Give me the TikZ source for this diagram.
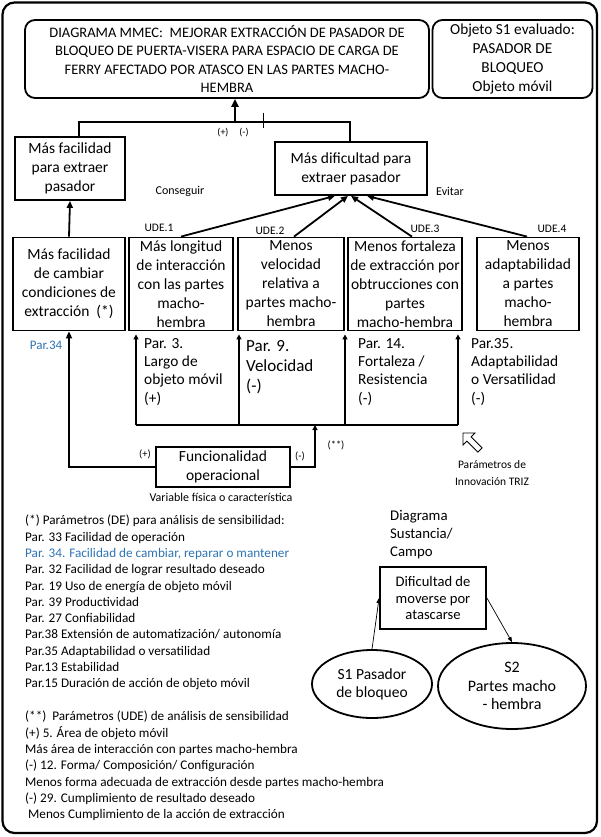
\documentclass[tikz,border=0pt]{standalone}
\usepackage{fontspec}
\setmainfont{Carlito}
\usetikzlibrary{arrows.meta,shapes.geometric}
\definecolor{parblue}{RGB}{46,116,181}
\newcommand{\fsz}[2]{\fontsize{#1}{#2}\selectfont}
\tikzset{
  bx/.style={draw, line width=1.8pt, align=center, inner sep=1pt},
  arr/.style={-{Triangle[length=7pt,width=6pt]}, line width=1.8pt},
  arrsm/.style={-{Triangle[length=5pt,width=5pt]}, line width=1.5pt},
  arrthin/.style={-{Triangle[length=5pt,width=4pt]}, line width=0.7pt},
  lbl/.style={inner sep=0pt, align=center},
  txt/.style={inner sep=0pt, align=left, anchor=north west},
}
\begin{document}
\begin{tikzpicture}[x=1pt,y=-1pt]
\useasboundingbox (0,0) rectangle (600,837);
% outer frame
\draw[line width=2.2pt, rounded corners=12pt] (2.5,2.5) rectangle (597,833);

% top boxes
\node[bx, rounded corners=10pt, minimum width=404pt, minimum height=78pt, font=\fsz{14.5}{18.3}] (title) at (227,59)
 {DIAGRAMA MMEC:\ \ MEJORAR EXTRACCIÓN DE PASADOR DE\\BLOQUEO DE PUERTA-VISERA PARA ESPACIO DE CARGA DE\\FERRY AFECTADO POR ATASCO EN LAS PARTES MACHO-\\HEMBRA};
\node[bx, rounded corners=10pt, minimum width=160pt, minimum height=78pt, font=\fsz{15.3}{18.8}] (obj) at (512.5,59)
 {Objeto S1 evaluado:\\PASADOR DE\\BLOQUEO\\Objeto móvil};

% second row
\node[bx, minimum width=110pt, minimum height=63pt, font=\fsz{15.5}{19}] (A) at (70,168.5) {Más facilidad\\para extraer\\pasador};
\node[bx, minimum width=152pt, minimum height=53pt, font=\fsz{15.5}{19}] (B) at (351,168.5) {Más dificultad para\\extraer pasador};

% third row
\node[bx, minimum width=112pt, minimum height=93pt, font=\fsz{15.5}{19}] (C0) at (69,284) {Más facilidad\\de cambiar\\condiciones de\\extracción\ \ (*)};
\node[bx, minimum width=104pt, minimum height=93pt, font=\fsz{15.5}{19}] (U1) at (181,284) {Más longitud\\de interacción\\con las partes\\macho-\\hembra};
\node[bx, minimum width=106pt, minimum height=93pt, font=\fsz{15.5}{19}] (U2) at (291,284) {Menos\\velocidad\\relativa a\\partes macho-\\hembra};
\node[bx, minimum width=114pt, minimum height=93pt, font=\fsz{15.5}{19}] (U3) at (405,284) {Menos fortaleza\\de extracción por\\obtrucciones con\\partes\\macho-hembra};
\node[bx, minimum width=102pt, minimum height=93pt, font=\fsz{15.5}{19}] (U4) at (528,284) {Menos\\adaptabilidad\\a partes\\macho-\\hembra};

% funcionalidad
\node[bx, minimum width=134pt, minimum height=40pt, font=\fsz{15.5}{19}] (F) at (223,467) {Funcionalidad\\operacional};

% top connectors
\coordinate (jt) at (235,122);
\coordinate (jl) at (79,122);
\coordinate (jr) at (350,122);
\draw[line width=2pt] (jl |- A.north) -- (jl) -- (jr) -- (jr |- B.north);
\draw[-{Triangle[length=8pt,width=7pt]}, line width=2.6pt] (jt) -- (jt |- title.south);
\coordinate (tk1) at (263,113);
\coordinate (tk2) at (263,128);
\draw[line width=0.6pt] (tk1) -- (tk2);
\node[lbl, font=\fsz{10}{12}] (pp) at (223,133) {(+)};
\node[lbl, font=\fsz{10}{12}] (pm) at (244,133) {(-)};

\node[lbl, font=\fsz{12}{14}] (cons) at (180,191) {Conseguir};
\node[lbl, font=\fsz{12}{14}] (evit) at (450,191) {Evitar};

% UDE arrows
\draw[arr] (U1.north) -- ([xshift=-16pt]B.south);
\draw[arr] ([xshift=3pt]U2.north) -- ([xshift=-3pt]B.south);
\draw[arr] ([xshift=7pt]U3.north) -- (B.south);
\draw[arr] ([xshift=-1pt]U4.north) -- ([xshift=16pt]B.south);
\draw[arr] (C0.north) -- (A.south);

\node[lbl, font=\fsz{11.5}{14}] (ude1) at (159,228) {UDE.1};
\node[lbl, font=\fsz{11.5}{14}] (ude2) at (270,231) {UDE.2};
\node[lbl, font=\fsz{11.5}{14}] (ude3) at (425,229) {UDE.3};
\node[lbl, font=\fsz{11.5}{14}] (ude4) at (552,229) {UDE.4};

% parameter bracket
\coordinate (p1) at (136,425);
\coordinate (p2) at (239,425);
\coordinate (p3) at (345,425);
\coordinate (p4) at (458,425);
\coordinate (p5) at (315,425);
\draw[line width=1.6pt] (p1) -- (p4);
\draw[arrsm] (p1) -- ([yshift=-3pt]p1 |- U1.south);
\draw[arrsm] (p2) -- ([yshift=-3pt]p2 |- U2.south);
\draw[arrsm] (p3) -- ([yshift=-3pt]p3 |- U3.south);
\draw[arrsm] (p4) -- ([yshift=-3pt]p4 |- U3.south);

\draw[arr] (F.west) -- (F.west -| C0.south) -- (C0.south);
\draw[arrsm] (F.east) -- (F.east -| p5) -- (p5);

\node[lbl, font=\fsz{10.5}{12}] (fp) at (145,454) {(+)};
\node[lbl, font=\fsz{10.5}{12}] (fm) at (300,456) {(-)};
\node[lbl, font=\fsz{10.5}{12}] (fss) at (336,445) {(**)};

\node[lbl, font=\fsz{13}{15}, text=parblue] (par34) at (46,345) {Par.34};
\node[txt, font=\fsz{15.4}{18.3}] (t3) at (144,338) {Par. 3.\\Largo de\\objeto móvil\\(+)};
\node[txt, font=\fsz{17}{20}] (t9) at (246,340) {Par. 9.\\Velocidad\\(-)};
\node[txt, font=\fsz{15.4}{18.3}] (t14) at (358,338) {Par. 14.\\Fortaleza /\\Resistencia\\(-)};
\node[txt, font=\fsz{15.4}{18.3}] (t35) at (471,338) {Par.35.\\Adaptabilidad\\o Versatilidad\\(-)};

% hollow arrow icon
\draw[line width=0.8pt] (463,433) -- (475,433) -- (471.1,436.9) -- (482.1,447.9) -- (477.9,452.1) -- (466.9,441.1) -- (463,445) -- cycle;
\node[lbl, font=\fsz{11.5}{17}] (triz) at (492,473.5) {Parámetros de\\Innovación TRIZ};

\node[lbl, font=\fsz{12}{14}] (var) at (221,497) {Variable física o característica};

% lists
\node[txt, font=\fsz{13.2}{16.3}] (list1) at (25,515) {(*) Parámetros (DE) para análisis de sensibilidad:\\
Par. 33 Facilidad de operación\\
\textcolor{parblue}{Par. 34. Facilidad\ de cambiar, reparar o mantener}\\
Par. 32 Facilidad de lograr resultado deseado\\
Par. 19 Uso de energía de objeto móvil\\
Par. 39 Productividad\\
Par. 27 Confiabilidad\\
Par.38 Extensión de automatización/ autonomía\\
Par.35 Adaptabilidad\ o versatilidad\\
Par.13 Estabilidad\\
Par.15 Duración de acción de objeto móvil};

\node[txt, font=\fsz{13.2}{16.3}] (list2) at (25,711) {(**)\ \ Parámetros (UDE) de análisis de sensibilidad\\
(+) 5. Área de objeto móvil\\
Más área de interacción con partes macho-hembra\\
(-) 12. Forma/ Composición/\ Configuración\\
Menos forma adecuada de extracción desde partes macho-hembra\\
(-) 29. Cumplimiento\ de resultado deseado\\
\hspace{3pt}Menos Cumplimiento\ de la acción de extracción};

% substance-field diagram
\node[txt, font=\fsz{14.8}{18}] (sflbl) at (390,510) {Diagrama\\Sustancia/\\Campo};
\node[bx, minimum width=106pt, minimum height=62pt, font=\fsz{14.6}{16.8}] (D) at (433,598) {Dificultad de\\moverse por\\atascarse};
\node[draw, ellipse, line width=1.8pt, inner sep=0pt, minimum width=120pt, minimum height=68pt, align=center, font=\fsz{15.5}{18}] (S1) at (372,684) {S1 Pasador\\de bloqueo};
\node[draw, ellipse, line width=1.8pt, inner sep=0pt, minimum width=148pt, minimum height=86pt, align=center, font=\fsz{16}{18.5}] (S2) at (512,686) {S2\\Partes macho\\- hembra};
\draw[arrthin] (S1.north) -- (D.west);
\draw[arrthin] (D.east) -- (S2.north);
\end{tikzpicture}
\end{document}
